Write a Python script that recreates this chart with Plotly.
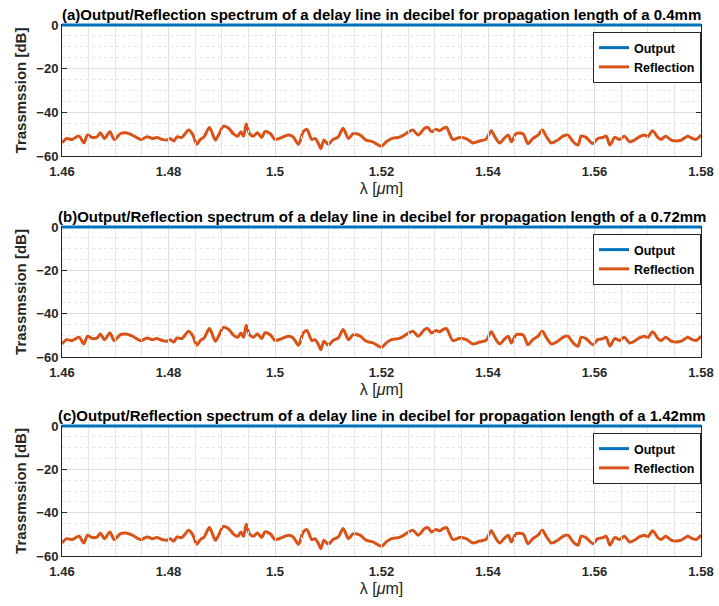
import plotly.graph_objects as go

# Wavelength samples [um] and reflected power [dB] of the delay line
wavelength_um = [
    1.4600, 1.4609, 1.4619, 1.4632, 1.4641, 1.4648, 1.4657, 1.4666, 1.4672, 1.4680,
    1.4690, 1.4698, 1.4710, 1.4720, 1.4732, 1.4748, 1.4760, 1.4770, 1.4778, 1.4788,
    1.4797, 1.4803, 1.4810, 1.4816, 1.4825, 1.4838, 1.4846, 1.4853, 1.4860, 1.4867,
    1.4877, 1.4888, 1.4894, 1.4903, 1.4913, 1.4922, 1.4930, 1.4936, 1.4941, 1.4946,
    1.4952, 1.4959, 1.4967, 1.4975, 1.4981, 1.4991, 1.5000, 1.5013, 1.5025, 1.5034,
    1.5044, 1.5053, 1.5060, 1.5069, 1.5075, 1.5081, 1.5086, 1.5092, 1.5100, 1.5109,
    1.5119, 1.5128, 1.5138, 1.5147, 1.5160, 1.5171, 1.5184, 1.5200, 1.5209, 1.5219,
    1.5231, 1.5238, 1.5246, 1.5259, 1.5269, 1.5281, 1.5287, 1.5294, 1.5303, 1.5309,
    1.5316, 1.5322, 1.5334, 1.5347, 1.5359, 1.5372, 1.5384, 1.5396, 1.5406, 1.5413,
    1.5422, 1.5430, 1.5438, 1.5444, 1.5453, 1.5466, 1.5475, 1.5484, 1.5494, 1.5502,
    1.5510, 1.5519, 1.5531, 1.5541, 1.5550, 1.5560, 1.5569, 1.5575, 1.5584, 1.5597,
    1.5606, 1.5616, 1.5622, 1.5629, 1.5638, 1.5647, 1.5656, 1.5666, 1.5675, 1.5684,
    1.5694, 1.5700, 1.5709, 1.5719, 1.5725, 1.5734, 1.5744, 1.5753, 1.5763, 1.5775,
    1.5784, 1.5791, 1.5800,
]
reflection_db = [
    -54.0, -52.0, -52.4, -50.9, -54.0, -50.4, -51.5, -51.2, -49.4, -52.0,
    -48.9, -52.4, -49.7, -49.4, -50.4, -52.4, -51.2, -52.0, -51.5, -52.4,
    -52.7, -52.0, -53.1, -51.2, -51.5, -48.1, -50.4, -54.6, -52.4, -51.2,
    -46.9, -52.7, -50.4, -46.3, -47.3, -49.9, -50.9, -48.9, -50.9, -45.4,
    -49.7, -50.9, -49.4, -51.5, -48.9, -49.7, -52.4, -51.5, -50.4, -51.2,
    -54.6, -48.9, -47.8, -52.4, -52.0, -54.0, -56.6, -52.7, -54.6, -52.4,
    -51.2, -47.3, -52.0, -49.7, -50.4, -52.7, -53.5, -55.5, -53.5, -52.0,
    -51.5, -50.9, -49.7, -48.1, -50.4, -47.3, -46.9, -48.9, -47.8, -48.4,
    -47.3, -46.9, -52.4, -51.5, -52.0, -54.0, -53.1, -52.4, -48.4, -51.2,
    -54.0, -52.0, -50.4, -53.5, -49.7, -49.9, -54.3, -52.0, -50.4, -48.1,
    -51.2, -54.0, -52.7, -50.9, -50.4, -53.5, -55.0, -50.9, -51.5, -54.3,
    -52.0, -51.5, -50.9, -55.0, -51.5, -52.4, -50.9, -53.5, -52.7, -51.2,
    -50.4, -51.2, -48.4, -51.5, -52.4, -50.9, -52.7, -53.1, -52.7, -50.9,
    -52.0, -52.4, -50.4,
]
# Transmitted (output) power [dB] at the band edges
output_wavelength_um = [1.46, 1.58]
output_db = [0.0, 0.0]

propagation_lengths = ["0.4mm", "0.72mm", "1.42mm"]
panel_tags = ["(a)", "(b)", "(c)"]

x_ticks = [1.46, 1.48, 1.50, 1.52, 1.54, 1.56, 1.58]
x_tick_text = ["1.46", "1.48", "1.5", "1.52", "1.54", "1.56", "1.58"]
y_ticks = [-60, -40, -20, 0]
y_range = [-60, 0]

BLUE = "#0072BD"
ORANGE = "#D95319"
AXIS = "#262626"
FONT = "Liberation Sans, Arial, Helvetica, sans-serif"

W, H = 719, 606
left, right, top, bottom = 62, 18, 18, 50
plot_h = H - top - bottom
panel_px = [(25, 156), (227, 357), (426, 556)]
pad_px = 3  # headroom so the 0 dB output line is not cut by the frame


def frac(py):
    return (H - bottom - py) / plot_h


fig = go.Figure()
layout = {}

for i in range(3):
    n = i + 1
    sfx = "" if n == 1 else str(n)
    xname, yname = f"x{sfx}", f"y{sfx}"
    # invisible companion axis for the output line (ids 4..6)
    yo = str(n + 3)
    leg = "legend" + sfx

    t_px, b_px = panel_px[i]
    y0, y1 = frac(b_px), frac(t_px)
    span_db = y_range[1] - y_range[0]
    db_per_px = span_db / (b_px - t_px)

    fig.add_trace(go.Scatter(
        x=wavelength_um, y=reflection_db, mode="lines", name="Reflection",
        line=dict(color=ORANGE, width=3, shape="spline", smoothing=0.8),
        xaxis=xname, yaxis=yname, legend=leg, legendrank=2,
    ))
    fig.add_trace(go.Scatter(
        x=output_wavelength_um, y=output_db, mode="lines", name="Output",
        line=dict(color=BLUE, width=3),
        xaxis=xname, yaxis="y" + yo, legend=leg, legendrank=1,
    ))

    layout["xaxis" + sfx] = dict(
        domain=[0, 1], anchor=yname, range=[1.46, 1.58],
        tickvals=x_ticks, ticktext=x_tick_text,
        ticks="inside", ticklen=5, tickcolor=AXIS, tickwidth=1,
        ticklabelstandoff=3,
        showline=True, linecolor=AXIS, linewidth=1, mirror="ticks",
        showgrid=True, gridcolor="#dedede", gridwidth=1,
        minor=dict(dtick=0.005, tick0=1.46, showgrid=True, gridcolor="#e6e6e6",
                   griddash="dot", gridwidth=1, ticks=""),
        tickfont=dict(family=FONT, size=13, color=AXIS, weight="bold"),
        title=dict(text="λ [<i>μ</i>m]", font=dict(family=FONT, size=16, color=AXIS),
                   standoff=5),
        zeroline=False, automargin=False, layer="below traces",
    )
    layout["yaxis" + sfx] = dict(
        domain=[y0, y1], anchor=xname, range=y_range, tickvals=y_ticks,
        ticks="inside", ticklen=5, tickcolor=AXIS, tickwidth=1,
        showline=True, linecolor=AXIS, linewidth=1, mirror="ticks",
        showgrid=True, gridcolor="#dedede", gridwidth=1,
        minor=dict(dtick=5, tick0=0, showgrid=True, gridcolor="#e6e6e6",
                   griddash="dot", gridwidth=1, ticks=""),
        tickfont=dict(family=FONT, size=13, color=AXIS, weight="bold"),
        title=dict(text="<b>Trassmssion [dB]</b>",
                   font=dict(family=FONT, size=15, color=AXIS), standoff=6),
        zeroline=False, automargin=False, layer="below traces",
    )
    layout["yaxis" + yo] = dict(
        domain=[y0, y1 + pad_px / plot_h], anchor=xname,
        range=[y_range[0], y_range[1] + pad_px * db_per_px],
        visible=False, showgrid=False, zeroline=False, fixedrange=True,
    )

    fig.add_annotation(
        xref="paper", yref="paper", x=0.5, y=y1, yshift=0,
        xanchor="center", yanchor="bottom", showarrow=False,
        text=f"<b>{panel_tags[i]}Output/Reflection spectrum of a delay line in decibel "
             f"for propagation length of a {propagation_lengths[i]}</b>",
        font=dict(family=FONT, size=15, color="black"),
    )

    layout[leg] = dict(
        x=1.0, y=y1 - 7 / plot_h, xanchor="right", yanchor="top",
        bgcolor="white", bordercolor=AXIS, borderwidth=1,
        font=dict(family=FONT, size=12.5, color="black", weight="bold"),
        tracegroupgap=0, itemwidth=30, traceorder="normal",
    )

fig.update_layout(**layout)
fig.update_layout(
    width=W, height=H,
    margin=dict(l=left, r=right, t=top, b=bottom, autoexpand=False),
    paper_bgcolor="white", plot_bgcolor="rgba(0,0,0,0)",
    showlegend=True,
)

fig.write_html("out.html")
